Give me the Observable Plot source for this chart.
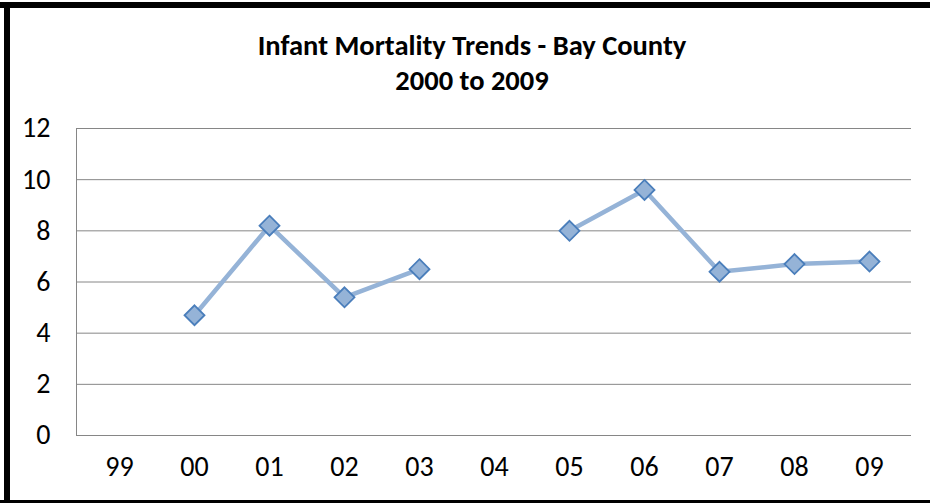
<!DOCTYPE html>
<html>
<head>
<meta charset="utf-8">
<script src="https://cdn.jsdelivr.net/npm/d3@7"></script>
<script src="https://cdn.jsdelivr.net/npm/@observablehq/plot@0.6"></script>
<style>
  html, body { margin: 0; padding: 0; background: #fff; }
  #wrap { position: relative; width: 930px; height: 503px; overflow: hidden; background: #fff;
          font-family: Carlito, "Liberation Sans Narrow", "Liberation Sans", sans-serif; }
  #title { position: absolute; left: 0; width: 944px; top: 28px; text-align: center;
           font-weight: bold; font-size: 28.5px; line-height: 35px; color: #000; }
  .bt { position: absolute; background: #000; }
  #chart { position: absolute; left: 0; top: 0; }
</style>
</head>
<body>
<div id="wrap">
  <div id="chart"></div>
  <div id="title">Infant Mortality Trends - Bay County<br>2000 to 2009</div>
  <div class="bt" style="left:0;top:2px;width:930px;height:6px"></div>
  <div class="bt" style="left:4px;top:2px;width:6px;height:501px"></div>
  <div class="bt" style="left:0;top:500px;width:930px;height:3px"></div>
</div>
<script>
const years = ["99","00","01","02","03","04","05","06","07","08","09"];
const rates = [null, 4.7, 8.2, 5.4, 6.5, null, 8.0, 9.6, 6.4, 6.7, 6.8];
const yTicks = [0, 2, 4, 6, 8, 10, 12];

const data = years.map((y, i) => ({year: y, rate: rates[i]}));
const pts = data.filter(d => d.rate != null);

const chart = Plot.plot({
  width: 930,
  height: 503,
  marginTop: 128,
  marginBottom: 68,
  marginLeft: 76,
  marginRight: 19,
  style: {fontFamily: 'Carlito, "Liberation Sans Narrow", "Liberation Sans", sans-serif', fontSize: "28px", color: "#000", background: "transparent"},
  x: {type: "point", domain: years, padding: 0.5, label: null},
  y: {domain: [0, 12], label: null},
  marks: [
    Plot.gridY(yTicks, {stroke: "#868686", strokeOpacity: 1, strokeWidth: 1}),
    Plot.axisY({ticks: yTicks, tickSize: 0, tickPadding: 26, label: null, fill: "#000"}),
    Plot.axisX({tickSize: 0, tickPadding: 21, label: null, fill: "#000"}),
    Plot.line(data, {x: "year", y: "rate", stroke: "#95b3d7", strokeWidth: 4.5, strokeLinejoin: "round"}),
    Plot.dot(pts, {x: "year", y: "rate", symbol: "diamond2", r: 9, fill: "#95b3d7", stroke: "#4a7ebb", strokeWidth: 1.8})
  ]
});
document.getElementById("chart").appendChild(chart);

// vertical axis line at the left edge of the plot area
const svg = d3.select(chart);
svg.append("line")
  .attr("x1", 76.5).attr("x2", 76.5)
  .attr("y1", 128).attr("y2", 435)
  .attr("stroke", "#868686");
</script>
</body>
</html>
